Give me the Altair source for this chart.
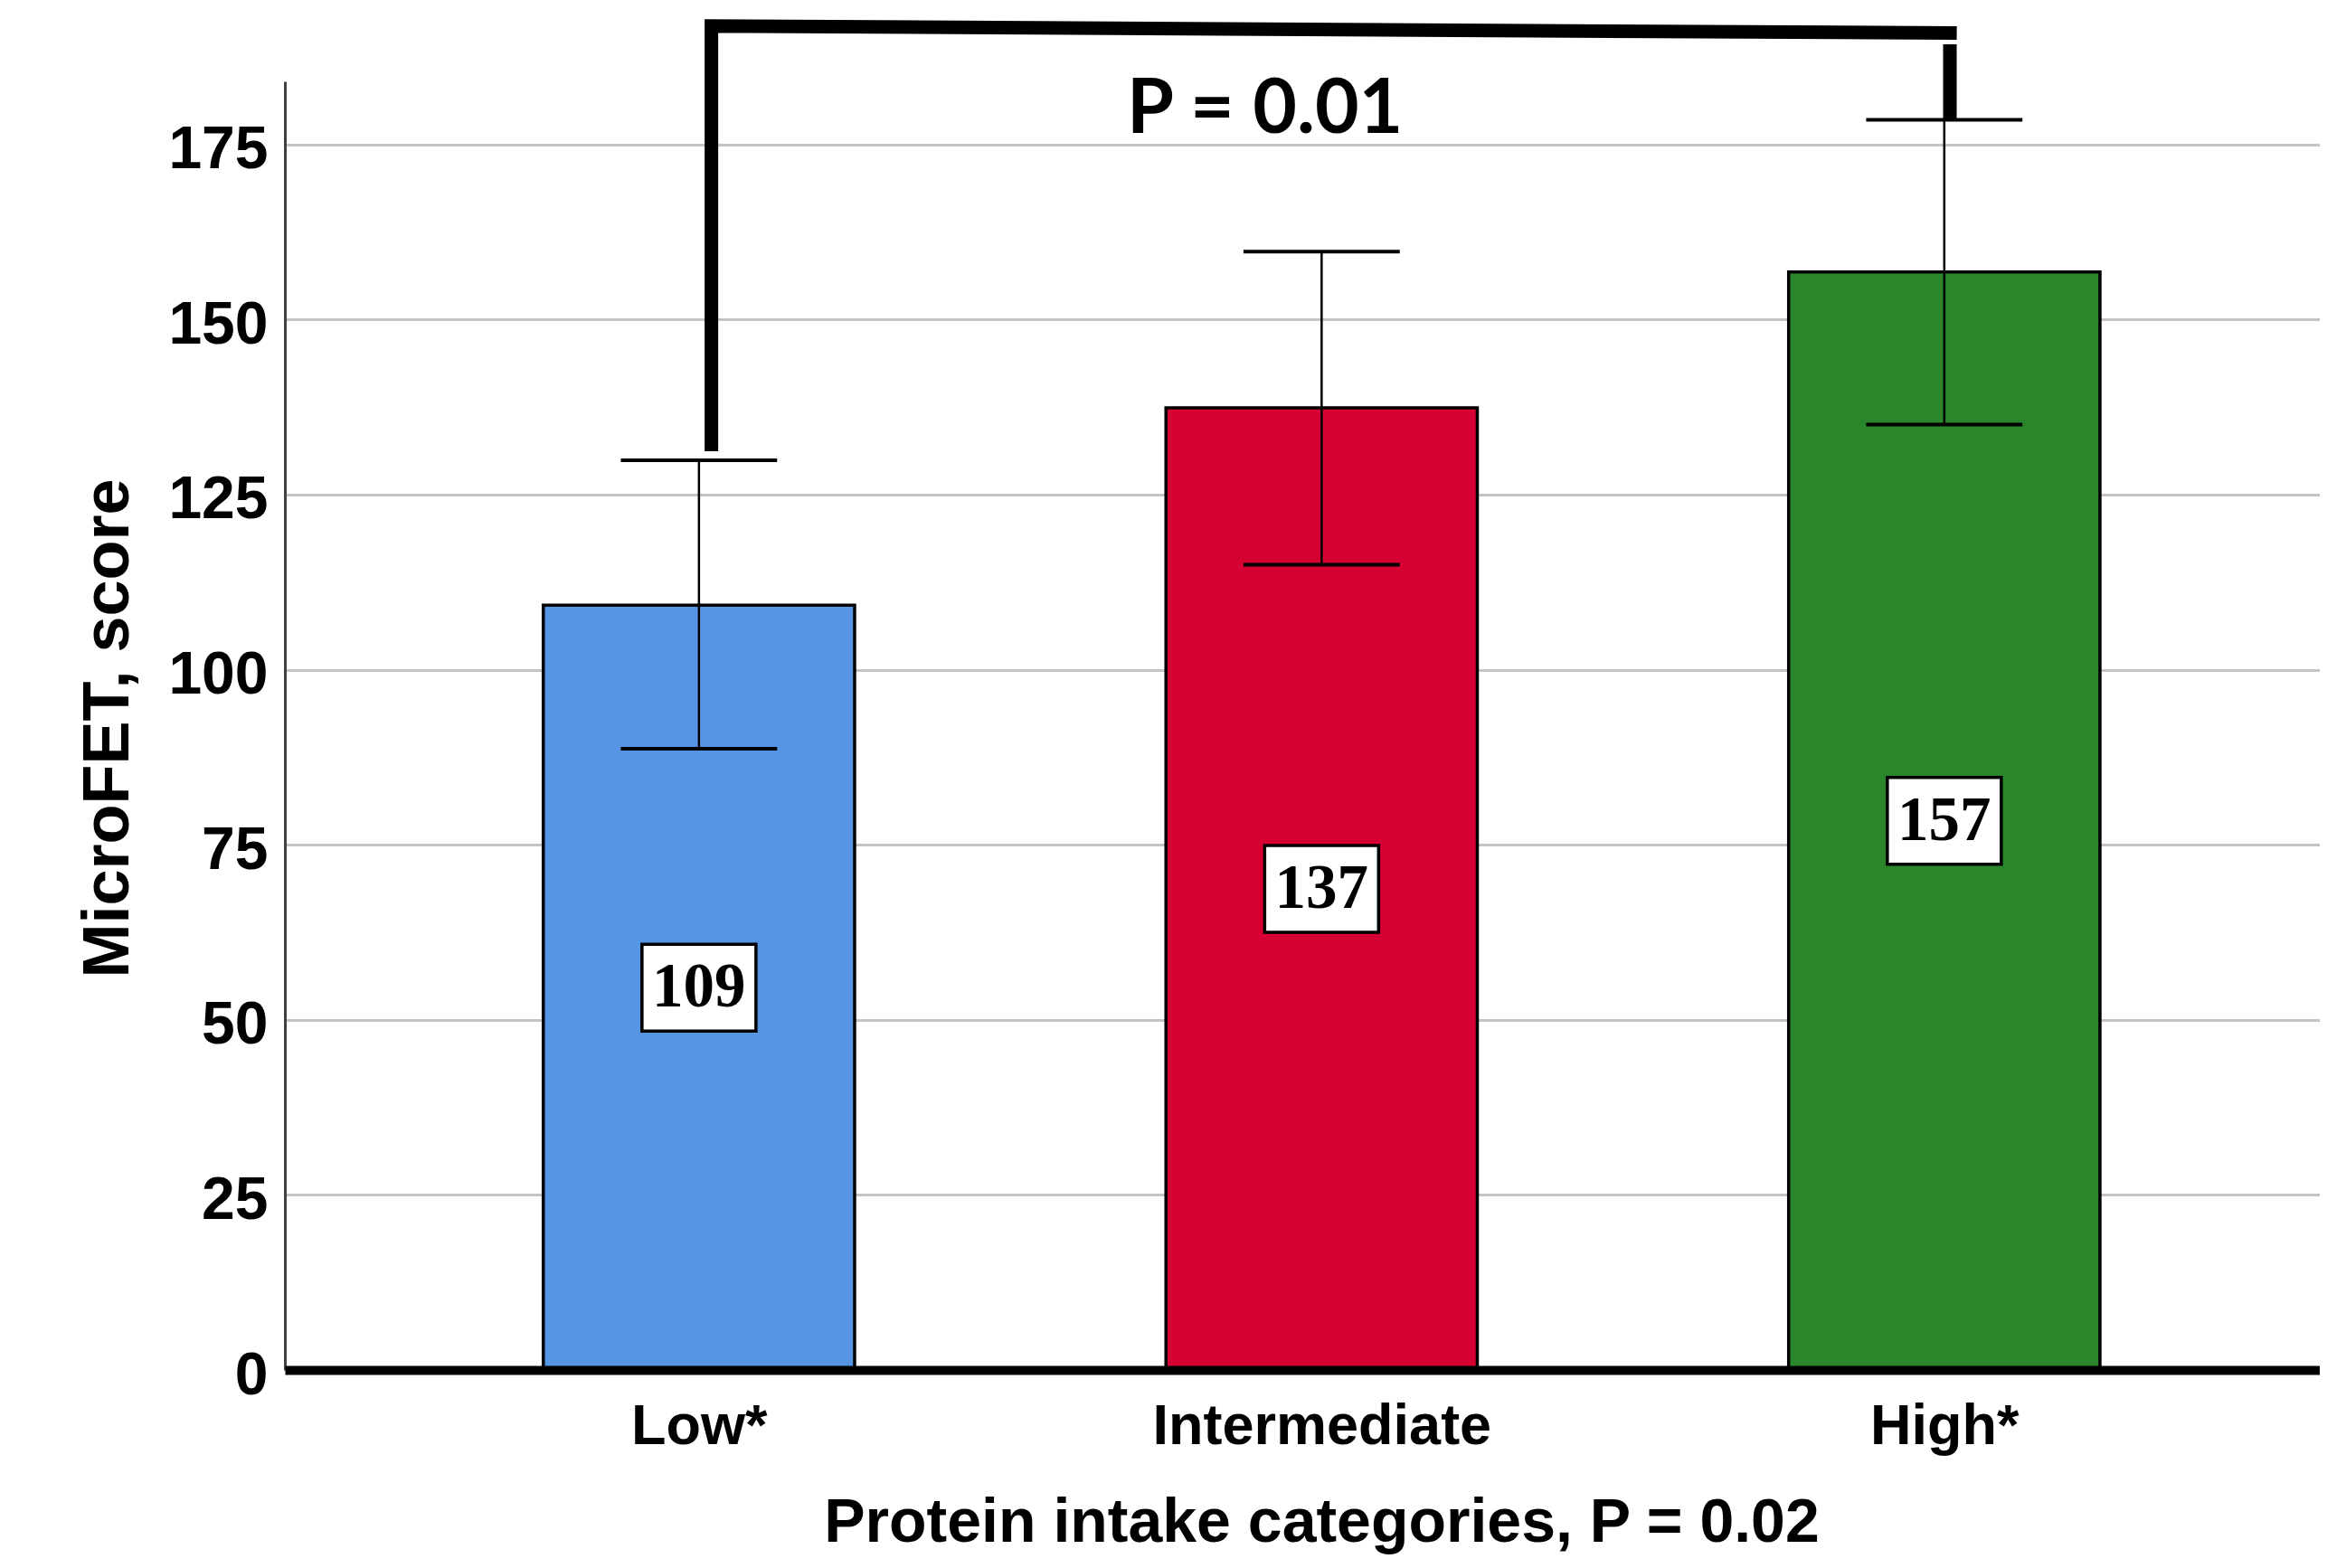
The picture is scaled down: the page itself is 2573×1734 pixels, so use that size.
import altair as alt
import pandas as pd

# ---- data ----
categories = ["Low*", "Intermediate", "High*"]
positions = [1, 2, 3]
means = [109.2, 137.4, 156.8]
ci_low = [88.7, 115.0, 135.0]
ci_high = [129.9, 159.7, 178.5]
bar_colors = ["#5595E3", "#D60032", "#29862A"]

y_ticks = [0, 25, 50, 75, 100, 125, 150, 175]

# significance bracket (annotation)
bracket_x = [1.02, 1.02, 3.02]
bracket_y = [131.2, 191.9, 190.9]
bracket_order = [0, 1, 2]
drop_x = [3.009]
drop_y = [178.7]
drop_y2 = [189.3]
p_text = ["P = 0.01"]
p_x = [1.909]
p_y = [176.7]

BAR_HALF = 0.25
CAP_HALF = 0.1255

df = pd.DataFrame({
    "cat": categories,
    "pos": positions,
    "mean": means,
    "lo": ci_low,
    "hi": ci_high,
})
df["x0"] = df["pos"] - BAR_HALF
df["x1"] = df["pos"] + BAR_HALF
df["c0"] = df["pos"] - CAP_HALF
df["c1"] = df["pos"] + CAP_HALF
df["zero"] = 0
df["half"] = df["mean"] / 2
df["label"] = df["mean"].round().astype(int).astype(str)

bracket_df = pd.DataFrame({"x": bracket_x, "y": bracket_y, "o": bracket_order})
drop_df = pd.DataFrame({"x": drop_x, "y": drop_y, "y2": drop_y2})
p_df = pd.DataFrame({"x": p_x, "y": p_y, "t": p_text})

xs = alt.Scale(domain=[0.335, 3.603], nice=False, zero=False)
ys = alt.Scale(domain=[0, 184], nice=False, zero=False)

label_expr = "[" + ",".join("'" + c + "'" for c in categories) + "][datum.value - 1]"

x_axis = alt.Axis(
    values=positions, labelExpr=label_expr, labelLimit=2000,
    labelFont="Liberation Sans", labelFontWeight="bold", labelFontSize=63,
    labelColor="black", labelPadding=31, ticks=False, tickSize=0,
    domainColor="black", domainWidth=10, grid=False, labelFlush=False,
    title="Protein intake categories, P = 0.02",
    titleFont="Liberation Sans", titleFontWeight="bold", titleFontSize=68,
    titleColor="black", titleX=1146, titleY=189, titleAlign="center",
    titleBaseline="alphabetic", zindex=1,
)
y_axis = alt.Axis(
    values=y_ticks,
    labelFont="Liberation Sans", labelFontWeight="bold", labelFontSize=66,
    labelColor="black", labelPadding=19, ticks=False, tickSize=0,
    labelOffset=6,
    domainColor="#404040", domainWidth=3,
    grid=True, gridColor="#c4c4c4", gridWidth=3,
    title="MicroFET, score",
    titleFont="Liberation Sans", titleFontWeight="bold", titleFontSize=72,
    titleColor="black", titleAngle=270, titleX=-196, titleY=715,
    titleAlign="center", titleBaseline="middle", titleLimit=2000, zindex=0,
)


def X(field):
    return alt.X(field, scale=xs, axis=x_axis)


def Y(field):
    return alt.Y(field, scale=ys, axis=y_axis)


bars = alt.Chart(df).mark_rect(stroke="black", strokeWidth=3.5).encode(
    x=X("x0:Q"),
    x2="x1:Q",
    y=Y("zero:Q"),
    y2="mean:Q",
    color=alt.Color("cat:N", scale=alt.Scale(domain=categories, range=bar_colors), legend=None),
)

whisker = alt.Chart(df).mark_rule(color="black", strokeWidth=2.5).encode(
    x=X("pos:Q"), y=Y("lo:Q"), y2="hi:Q",
)
cap_hi = alt.Chart(df).mark_rule(color="black", strokeWidth=4).encode(
    x=X("c0:Q"), x2="c1:Q", y=Y("hi:Q"),
)
cap_lo = alt.Chart(df).mark_rule(color="black", strokeWidth=4).encode(
    x=X("c0:Q"), x2="c1:Q", y=Y("lo:Q"),
)

box = alt.Chart(df).mark_point(
    shape="M-1.3125,-1L1.3125,-1L1.3125,1L-1.3125,1Z", size=9216,
    filled=True, fill="white", stroke="black", strokeWidth=3.5, opacity=1,
).encode(
    x=X("pos:Q"), y=Y("half:Q"),
)
vals = alt.Chart(df).mark_text(
    font="Liberation Serif", fontWeight="bold", fontSize=69,
    baseline="middle", align="center", color="black",
).encode(
    x=X("pos:Q"), y=Y("half:Q"), text="label:N",
)

bracket = alt.Chart(bracket_df).mark_line(
    color="black", strokeWidth=15, strokeJoin="miter", strokeCap="butt",
).encode(
    x=X("x:Q"), y=Y("y:Q"), order="o:Q",
)
drop = alt.Chart(drop_df).mark_rule(color="black", strokeWidth=15).encode(
    x=X("x:Q"), y=Y("y:Q"), y2="y2:Q",
)
ptext = alt.Chart(p_df).mark_text(
    font="Lato", fontWeight="bold", fontSize=84,
    baseline="alphabetic", align="center", color="black",
).encode(
    x=X("x:Q"), y=Y("y:Q"), text="t:N",
)

chart = alt.layer(
    bars, whisker, cap_hi, cap_lo, box, vals, bracket, drop, ptext
).properties(
    width=2250, height=1425,
    autosize=alt.AutoSizeParams(type="none"),
    padding={"left": 307, "top": 82, "right": 0, "bottom": 207},
    background="white",
).configure_view(stroke=None)

chart.save("out.html", embed_options={"renderer": "svg", "actions": False})
